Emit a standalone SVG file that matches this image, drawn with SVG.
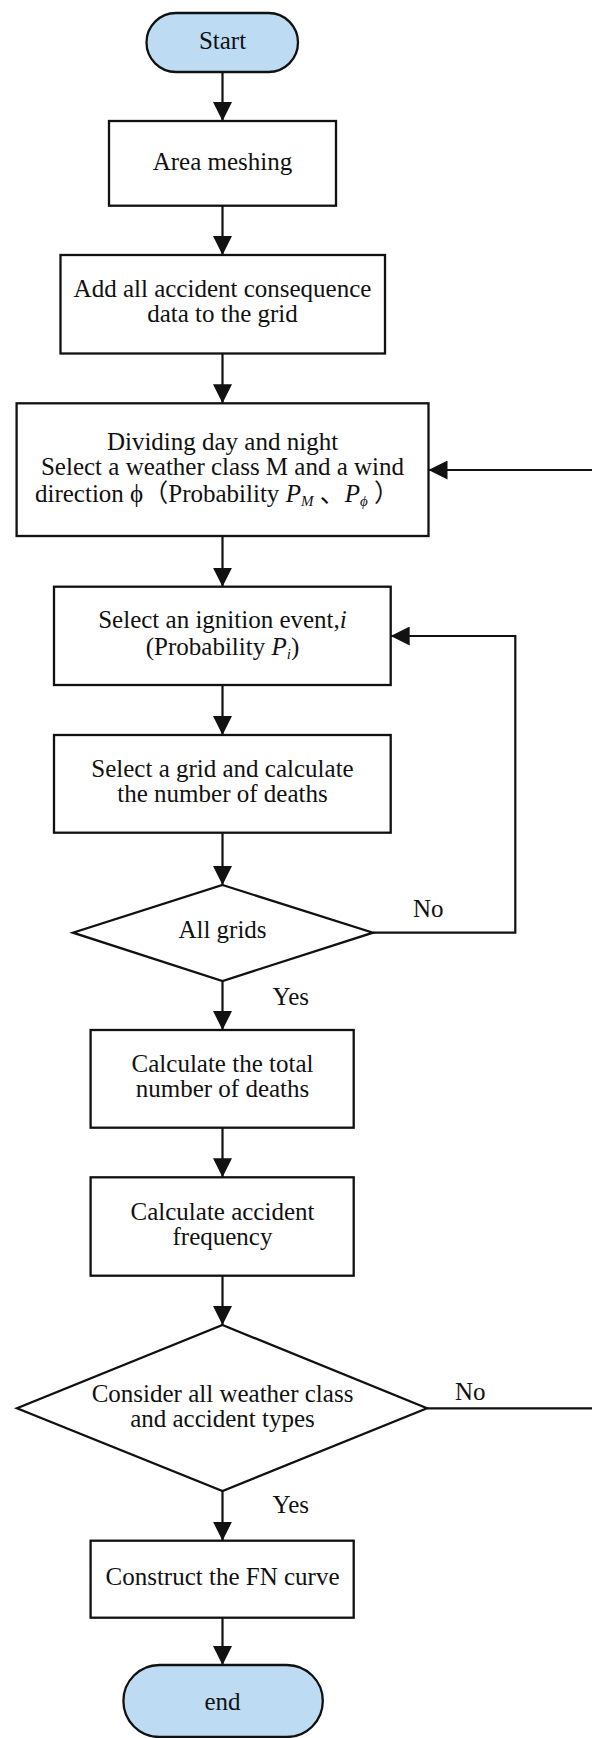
<svg xmlns="http://www.w3.org/2000/svg" width="592" height="1738" viewBox="0 0 592 1738">
  <style>
    .box { fill: #ffffff; stroke: #111111; stroke-width: 2.3; }
    .term { fill: #bddcf3; stroke: #111111; stroke-width: 2.3; }
    .edge { fill: none; stroke: #111111; stroke-width: 2.2; }
    text { font-family: "Liberation Serif", "Times New Roman", "Noto Sans CJK SC", serif; font-size: 25px; fill: #111111; }
    .c { text-anchor: middle; }
    .it { font-style: italic; }
    .sub { font-size: 15px; font-style: italic; }
  </style>
  <defs>
    <marker id="arrow" markerUnits="userSpaceOnUse" markerWidth="20" markerHeight="19" refX="19" refY="9.5" orient="auto">
      <path d="M0,0 L19,9.5 L0,19 Z" fill="#111111"/>
    </marker>
  </defs>

  <!-- connectors -->
  <g id="connectors">
    <line class="edge" x1="222.5" y1="72" x2="222.5" y2="121" marker-end="url(#arrow)"/>
    <line class="edge" x1="222.5" y1="205.7" x2="222.5" y2="255" marker-end="url(#arrow)"/>
    <line class="edge" x1="222.5" y1="353.5" x2="222.5" y2="403.3" marker-end="url(#arrow)"/>
    <line class="edge" x1="222.5" y1="536" x2="222.5" y2="586.7" marker-end="url(#arrow)"/>
    <line class="edge" x1="222.5" y1="685" x2="222.5" y2="735" marker-end="url(#arrow)"/>
    <line class="edge" x1="222.5" y1="832.7" x2="222.5" y2="885" marker-end="url(#arrow)"/>
    <line class="edge" x1="222.5" y1="981" x2="222.5" y2="1030" marker-end="url(#arrow)"/>
    <line class="edge" x1="222.5" y1="1127.7" x2="222.5" y2="1177.3" marker-end="url(#arrow)"/>
    <line class="edge" x1="222.5" y1="1275.7" x2="222.5" y2="1325" marker-end="url(#arrow)"/>
    <line class="edge" x1="222.5" y1="1491" x2="222.5" y2="1540.7" marker-end="url(#arrow)"/>
    <line class="edge" x1="222.5" y1="1617.7" x2="222.5" y2="1665" marker-end="url(#arrow)"/>
    <!-- "No" loop back to the ignition event -->
    <path class="edge" d="M373,932.7 H515.3 V636 H390.7" marker-end="url(#arrow)"/>
    <!-- "No" loop back to the weather / wind selection -->
    <path class="edge" d="M427,1408.3 H596 V470 H428.5" marker-end="url(#arrow)"/>
    <text x="413" y="916.7">No</text>
    <text x="272.6" y="1005">Yes</text>
    <text x="455" y="1400">No</text>
    <text x="272.6" y="1512.7">Yes</text>
  </g>

  <g id="start">
    <rect class="term" x="146.5" y="13" width="151.5" height="59" rx="29.5" ry="29.5"/>
    <text class="c" x="222.5" y="49">Start</text>
  </g>

  <g id="area-meshing">
    <rect class="box" x="109" y="121" width="227" height="84.7"/>
    <text class="c" x="222.5" y="170">Area meshing</text>
  </g>

  <g id="add-data">
    <rect class="box" x="60.5" y="255" width="324.5" height="98.5"/>
    <text class="c" x="222.5" y="297.3">Add all accident consequence</text>
    <text class="c" x="222.5" y="321.7">data to the grid</text>
  </g>

  <g id="weather-wind">
    <rect class="box" x="16.6" y="403.3" width="411.9" height="132.7"/>
    <text class="c" x="222.5" y="450">Dividing day and night</text>
    <text class="c" x="222.5" y="475">Select a weather class M and a wind</text>
    <text class="c" x="217" y="501.7">direction ϕ（Probability <tspan class="it">P</tspan><tspan class="sub" dy="4">M</tspan><tspan dy="-4"> 、</tspan><tspan class="it">P</tspan><tspan class="sub" dy="4">ϕ</tspan><tspan dy="-4"> ）</tspan></text>
  </g>

  <g id="ignition-event">
    <rect class="box" x="54" y="586.7" width="336.7" height="98.3"/>
    <text class="c" x="222.5" y="628">Select an ignition event,<tspan class="it">i</tspan></text>
    <text class="c" x="222.5" y="655">(Probability <tspan class="it">P</tspan><tspan class="sub" dy="4">i</tspan><tspan dy="-4">)</tspan></text>
  </g>

  <g id="grid-deaths">
    <rect class="box" x="54" y="735" width="336.7" height="97.7"/>
    <text class="c" x="222.5" y="777">Select a grid and calculate</text>
    <text class="c" x="222.5" y="801.7">the number of deaths</text>
  </g>

  <g id="all-grids">
    <polygon class="box" points="222.5,885 373,932.7 222.5,981 73,932.7"/>
    <text class="c" x="222.5" y="937.7">All grids</text>
  </g>

  <g id="total-deaths">
    <rect class="box" x="90.6" y="1030" width="263.1" height="97.7"/>
    <text class="c" x="222.5" y="1072.3">Calculate the total</text>
    <text class="c" x="222.5" y="1097.3">number of deaths</text>
  </g>

  <g id="accident-frequency">
    <rect class="box" x="90.6" y="1177.3" width="263.1" height="98.4"/>
    <text class="c" x="222.5" y="1220">Calculate accident</text>
    <text class="c" x="222.5" y="1245">frequency</text>
  </g>

  <g id="all-classes">
    <polygon class="box" points="222.5,1325 427,1408.3 222.5,1491 17,1408.3"/>
    <text class="c" x="222.5" y="1401.7">Consider all weather class</text>
    <text class="c" x="222.5" y="1426.7">and accident types</text>
  </g>

  <g id="fn-curve">
    <rect class="box" x="90.6" y="1540.7" width="263.1" height="77"/>
    <text class="c" x="222.5" y="1585">Construct the FN curve</text>
  </g>

  <g id="end">
    <rect class="term" x="123.4" y="1665" width="199.4" height="72" rx="36" ry="36"/>
    <text class="c" x="222.5" y="1710">end</text>
  </g>
</svg>
